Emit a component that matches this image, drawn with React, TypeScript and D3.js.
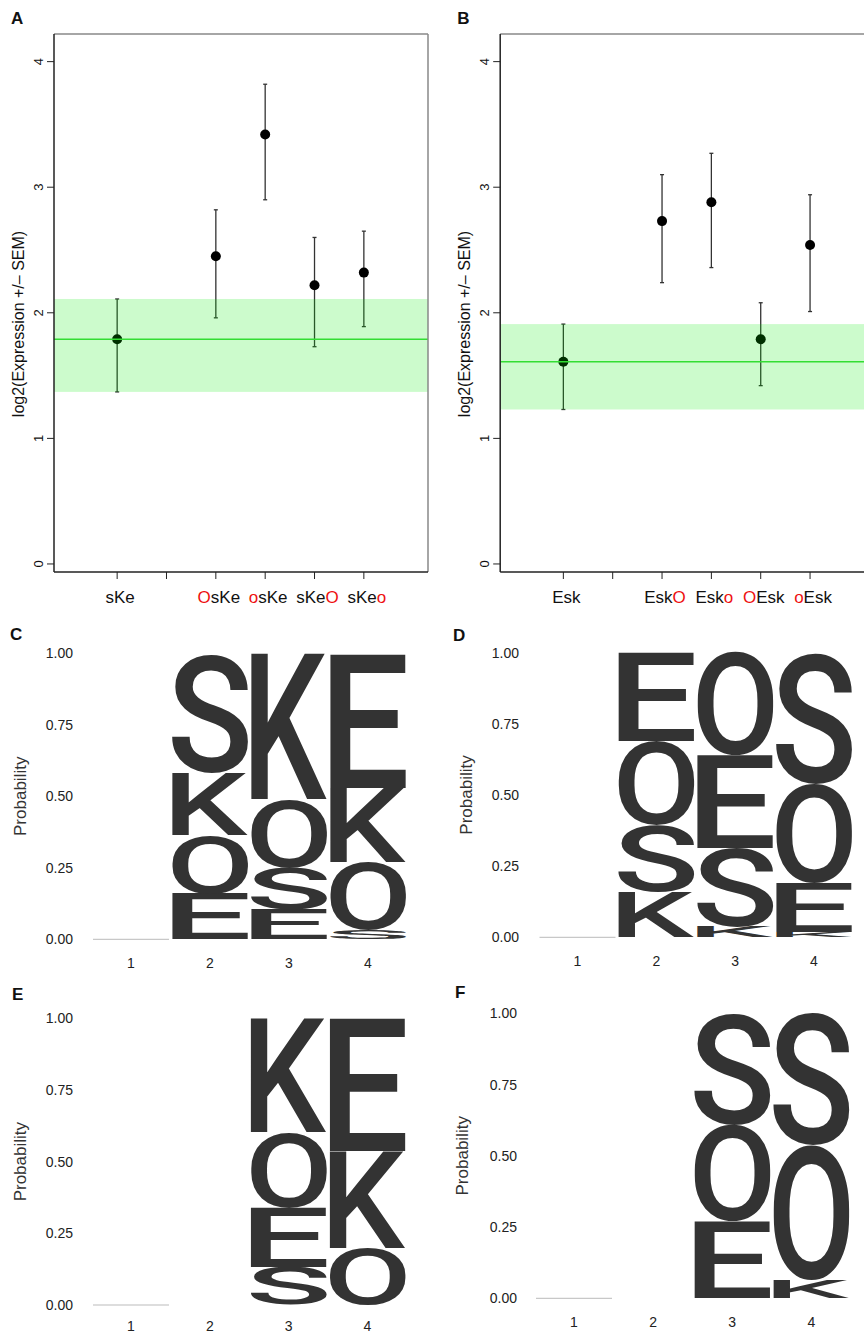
import * as d3 from 'd3';

const W = 864;
const H = 1335;

// ---- panel A : sKe constructs, log2 expression +/- SEM
const labelsA = ['sKe', 'OsKe', 'osKe', 'sKeO', 'sKeo'];
const redCharA = [-1, 0, 0, 3, 3];
const posA = [1, 3, 4, 5, 6];
const meanA = [1.79, 2.45, 3.42, 2.22, 2.32];
const lowA = [1.37, 1.96, 2.9, 1.73, 1.89];
const highA = [2.11, 2.82, 3.82, 2.6, 2.65];

// ---- panel B : Esk constructs
const labelsB = ['Esk', 'EskO', 'Esko', 'OEsk', 'oEsk'];
const redCharB = [-1, 3, 3, 0, 0];
const posB = [1, 3, 4, 5, 6];
const meanB = [1.61, 2.73, 2.88, 1.79, 2.54];
const lowB = [1.23, 2.24, 2.36, 1.42, 2.01];
const highB = [1.91, 3.1, 3.27, 2.08, 2.94];

const yTicksTop = [0, 1, 2, 3, 4];
const xTicksTop = [1, 2, 3, 4, 5, 6];

// ---- logos (letters listed top -> bottom, with probability). null = gap column
const logoPositions = [1, 2, 3, 4];
const logoTicks = [0, 0.25, 0.5, 0.75, 1];
const logoC = [
  null,
  [['S', 0.417], ['K', 0.217], ['O', 0.206], ['E', 0.16]],
  [['K', 0.51], ['O', 0.24], ['S', 0.145], ['E', 0.105]],
  [['E', 0.47], ['K', 0.26], ['O', 0.237], ['S', 0.033]],
];
const logoD = [
  null,
  [['E', 0.31], ['O', 0.295], ['S', 0.235], ['K', 0.16]],
  [['O', 0.362], ['E', 0.325], ['S', 0.278], ['K', 0.035]],
  [['S', 0.462], ['O', 0.348], ['E', 0.17], ['K', 0.02]],
];
const logoE = [
  null,
  [],
  [['K', 0.398], ['O', 0.262], ['E', 0.209], ['S', 0.131]],
  [['E', 0.463], ['K', 0.337], ['O', 0.2]],
];
const logoF = [
  null,
  [],
  [['S', 0.392], ['O', 0.338], ['E', 0.27]],
  [['S', 0.462], ['O', 0.474], ['K', 0.064]],
];

const FONT = 'Liberation Sans, Arial, sans-serif';
const LOGO_FONT = 'Roboto';
const LOGO_WEIGHT = 500;

// ink box of a glyph, measured once with a canvas
const inkCache: Record<string, any> = {};
function inkBox(ch: string) {
  if (!inkCache[ch]) {
    const ctx = document.createElement('canvas').getContext('2d')!;
    ctx.font = `${LOGO_WEIGHT} 200px ${LOGO_FONT}`;
    const m = ctx.measureText(ch);
    inkCache[ch] = {
      l: m.actualBoundingBoxLeft,
      r: m.actualBoundingBoxRight,
      a: m.actualBoundingBoxAscent,
      d: m.actualBoundingBoxDescent,
    };
  }
  return inkCache[ch];
}

function Glyph({ ch, xL, xR, yT, yB }: any) {
  const b = inkBox(ch);
  const sx = (xR - xL) / (b.l + b.r);
  const sy = (yB - yT) / (b.a + b.d);
  if (!(sy > 0)) return null;
  return (
    <text
      transform={`translate(${xL + b.l * sx},${yB - b.d * sy}) scale(${sx},${sy})`}
      fontFamily={LOGO_FONT}
      fontWeight={LOGO_WEIGHT}
      fontSize={200}
      fill="#333333"
    >
      {ch}
    </text>
  );
}

function ColoredLabel({ text, red, x, y }: any) {
  return (
    <text x={x} y={y} textAnchor="middle" fontFamily={FONT} fontSize={17} fill="#111">
      {text.split('').map((c: string, i: number) => (
        <tspan key={i} fill={i === red ? '#ee1111' : '#111'}>{c}</tspan>
      ))}
    </text>
  );
}

function ErrPanel({ x0, tag, labels, red, pos, mean, low, high }: any) {
  const x = d3.scaleLinear().domain([-0.28, 7.3]).range([x0, x0 + 374]);
  const y = d3.scaleLinear().domain([-0.064, 4.22]).range([572, 34]);
  const [xa, xb] = x.range();
  const [ya, yb] = y.range();
  const right = Math.min(xb, W);
  return (
    <g>
      <text x={x0 - 43} y={24} fontFamily={FONT} fontWeight="bold" fontSize={17} fill="#111">{tag}</text>
      {/* points and error bars */}
      {pos.map((p: number, i: number) => (
        <g key={i}>
          <line x1={x(p)} x2={x(p)} y1={y(low[i])} y2={y(high[i])} stroke="#333" strokeWidth={1.3} />
          <line x1={x(p) - 2} x2={x(p) + 2} y1={y(low[i])} y2={y(low[i])} stroke="#333" strokeWidth={1.3} />
          <line x1={x(p) - 2} x2={x(p) + 2} y1={y(high[i])} y2={y(high[i])} stroke="#333" strokeWidth={1.3} />
          <circle cx={x(p)} cy={y(mean[i])} r={5} fill="#000" />
        </g>
      ))}
      {/* reference band = first construct +/- SEM */}
      <rect x={xa} width={right - xa} y={y(high[0])} height={y(low[0]) - y(high[0])} fill="rgba(0,235,0,0.2)" />
      <line x1={xa} x2={right} y1={y(mean[0])} y2={y(mean[0])} stroke="#33dd33" strokeWidth={1.5} />
      {/* box */}
      <line x1={xa} x2={right} y1={yb} y2={yb} stroke="#888" strokeWidth={1.5} />
      <line x1={xb} x2={xb} y1={yb} y2={ya} stroke="#888" strokeWidth={1.5} />
      <line x1={xa} x2={xa} y1={yb} y2={ya} stroke="#222" strokeWidth={1.5} />
      <line x1={xa} x2={right} y1={ya} y2={ya} stroke="#222" strokeWidth={1.5} />
      {/* y axis */}
      {yTicksTop.map(t => (
        <g key={t}>
          <line x1={xa - 7} x2={xa} y1={y(t)} y2={y(t)} stroke="#222" strokeWidth={1} />
          <text transform={`translate(${xa - 11},${y(t)}) rotate(-90)`} textAnchor="middle" fontFamily={FONT} fontSize={13} fill="#111">{t}</text>
        </g>
      ))}
      <text transform={`translate(${xa - 30},324) rotate(-90)`} textAnchor="middle" fontFamily={FONT} fontSize={16} fill="#111">
        log2(Expression +/– SEM)
      </text>
      {/* x axis */}
      {xTicksTop.map(t => (
        <line key={t} x1={x(t)} x2={x(t)} y1={ya} y2={ya + 7} stroke="#222" strokeWidth={1} />
      ))}
      {labels.map((l: string, i: number) => (
        <ColoredLabel key={l} text={l} red={red[i]} x={x(pos[i]) + 3} y={603} />
      ))}
    </g>
  );
}

function LogoPanel({ tag, tagX, tagY, y0, y1, c1, c4, tickRight, probX, data }: any) {
  const x = d3.scaleLinear().domain([1, 4]).range([c1, c4]);
  const y = d3.scaleLinear().domain([0, 1]).range([y0, y1]);
  const half = 38;
  const fmt = d3.format('.2f');
  return (
    <g>
      <text x={tagX} y={tagY} fontFamily={FONT} fontWeight="bold" fontSize={17} fill="#111">{tag}</text>
      {logoTicks.map(t => (
        <text key={t} x={tickRight} y={y(t) + 5} textAnchor="end" fontFamily={FONT} fontSize={14} fill="#222">{fmt(t)}</text>
      ))}
      <text transform={`translate(${probX},${(y0 + y1) / 2}) rotate(-90)`} textAnchor="middle" fontFamily={FONT} fontSize={17} fill="#333">
        Probability
      </text>
      {logoPositions.map(p => (
        <text key={p} x={x(p)} y={Math.min(y0 + 29, H - 4)} textAnchor="middle" fontFamily={FONT} fontSize={14} fill="#222">{p}</text>
      ))}
      {data.map((col: any, i: number) => {
        const cx = x(logoPositions[i]);
        if (col === null) {
          return <line key={i} x1={cx - half} x2={cx + half} y1={y(0)} y2={y(0)} stroke="#bbb" strokeWidth={1} />;
        }
        let acc = 0;
        const stack = col.slice().reverse().map(([ch, pr]: any) => {
          const lo = acc;
          acc += pr;
          return { ch, lo, hi: acc };
        });
        return (
          <g key={i}>
            {stack.map((s: any, k: number) => (
              <Glyph key={k} ch={s.ch} xL={cx - half} xR={cx + half} yT={y(s.hi)} yB={y(s.lo)} />
            ))}
          </g>
        );
      })}
    </g>
  );
}

export default function App() {
  return (
    <svg width={W} height={H} style={{ position: 'absolute', left: 0, top: 0, background: '#fff' }}>
      <rect width={W} height={H} fill="#fff" />
      <ErrPanel x0={54} tag="A" labels={labelsA} red={redCharA} pos={posA} mean={meanA} low={lowA} high={highA} />
      <ErrPanel x0={500.2} tag="B" labels={labelsB} red={redCharB} pos={posB} mean={meanB} low={lowB} high={highB} />
      <LogoPanel tag="C" tagX={10} tagY={640} y0={939.3} y1={653.3} c1={131} c4={368} tickRight={73} probX={26} data={logoC} />
      <LogoPanel tag="D" tagX={453} tagY={641} y0={937.3} y1={652.7} c1={577.5} c4={814} tickRight={519} probX={472} data={logoD} />
      <LogoPanel tag="E" tagX={12} tagY={1000} y0={1305} y1={1018.3} c1={131} c4={367.5} tickRight={73} probX={26} data={logoE} />
      <LogoPanel tag="F" tagX={455} tagY={998} y0={1298.3} y1={1013.3} c1={574} c4={811.3} tickRight={517} probX={468} data={logoF} />
    </svg>
  );
}
